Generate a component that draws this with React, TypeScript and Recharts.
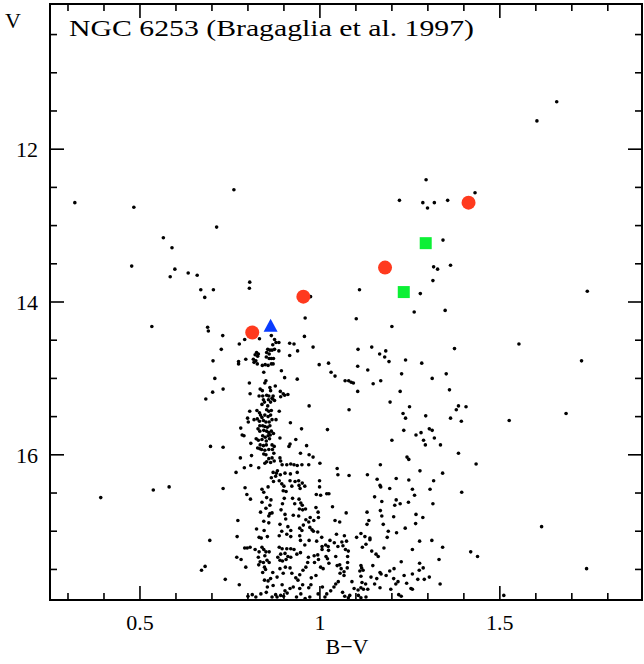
import { ScatterChart, Scatter, XAxis, YAxis, ReferenceArea } from 'recharts'

// field + cluster stars, [B-V, V]
const stars: [number, number][] = [
  [0.761, 12.53],
  [1.658, 11.38], [1.603, 11.63], [1.295, 12.40], [1.431, 12.57], [1.221, 12.67], [1.286, 12.70], [1.318, 12.70],
  [1.299, 12.77], [1.355, 12.67], [1.342, 13.19], [1.316, 13.54], [1.327, 13.57], [1.363, 13.52], [1.314, 13.72],
  [1.110, 13.84], [1.279, 13.89], [1.743, 13.86],
  [0.713, 13.02], [0.565, 13.16], [0.589, 13.29], [0.597, 13.57], [0.584, 13.67], [0.634, 13.62], [0.659, 13.65],
  [0.669, 13.84], [0.704, 13.84], [0.680, 13.94], [0.805, 13.74], [0.804, 13.82], [0.974, 13.93], [1.262, 14.13],
  [1.348, 14.11], [0.959, 14.21], [1.101, 14.22], [1.200, 14.32], [0.688, 14.33], [0.533, 14.32],
  [0.319, 12.70], [0.483, 12.76], [0.477, 13.53], [0.690, 14.38], [0.730, 14.44], [0.776, 14.55], [0.726, 14.62],
  [0.703, 14.77], [0.774, 14.78], [0.774, 14.81], [0.708, 15.00], [0.731, 15.14], [0.702, 15.18], [0.683, 15.27],
  [0.696, 15.89], [0.731, 15.90], [0.537, 16.46], [0.581, 16.42], [0.731, 16.44], [0.391, 16.56], [0.694, 17.12],
  [0.671, 17.51], [0.681, 17.46], [0.737, 17.63],
  [1.553, 14.55], [1.727, 14.77], [1.684, 15.46], [1.526, 15.55], [1.616, 16.94], [1.741, 17.49], [1.511, 17.84],
  [1.144, 14.59], [1.166, 14.68], [1.183, 14.64], [1.180, 14.72], [1.192, 14.78], [1.238, 14.76], [1.283, 14.80],
  [1.374, 14.61], [1.133, 14.89], [1.227, 14.94], [1.351, 14.94], [1.169, 15.03], [1.148, 15.07], [1.312, 15.00],
  [1.105, 15.17], [1.223, 15.17], [1.360, 15.15], [1.195, 15.31], [1.249, 15.37], [1.231, 15.46], [1.238, 15.52],
  [1.294, 15.49], [1.385, 15.36], [1.379, 15.41], [1.406, 15.37], [1.363, 15.52], [1.393, 15.56], [1.233, 15.68],
  [1.267, 15.74], [1.281, 15.71], [1.304, 15.66], [1.312, 15.68], [1.318, 15.78], [1.200, 15.81], [1.288, 15.81],
  [1.293, 15.87], [1.335, 15.87], [1.385, 15.98], [1.242, 16.03], [1.247, 16.06],
  [1.168, 16.13], [1.434, 16.12], [1.278, 16.21], [1.132, 16.26], [1.341, 16.24], [1.159, 16.32], [1.212, 16.31],
  [1.247, 16.33], [1.316, 16.34], [1.167, 16.40], [1.169, 16.42], [1.194, 16.44], [1.257, 16.45], [1.306, 16.45],
  [1.394, 16.49], [1.263, 16.53], [1.152, 16.55], [1.172, 16.61], [1.212, 16.59], [1.208, 16.66], [1.223, 16.64],
  [1.246, 16.62], [1.314, 16.64], [1.131, 16.75], [1.168, 16.73], [1.172, 16.80], [1.205, 16.81], [1.267, 16.78],
  [1.286, 16.82], [1.136, 16.86], [1.131, 16.91], [1.176, 16.91], [1.266, 16.90], [1.237, 16.96], [1.190, 17.00],
  [1.213, 17.02], [1.114, 17.03], [1.125, 17.07], [1.139, 17.09], [1.139, 17.11], [1.187, 17.08], [1.277, 17.13],
  [1.311, 17.12], [1.128, 17.17], [1.118, 17.21], [1.341, 17.21], [1.178, 17.22], [1.257, 17.24], [1.144, 17.26],
  [1.156, 17.30], [1.162, 17.33], [1.419, 17.27], [1.438, 17.33], [1.331, 17.37], [1.226, 17.40], [1.277, 17.42],
  [1.147, 17.45], [1.114, 17.45], [1.116, 17.48], [1.120, 17.51], [1.111, 17.52], [1.287, 17.48], [1.276, 17.51],
  [1.206, 17.49], [1.194, 17.52], [1.167, 17.54], [1.170, 17.56], [1.184, 17.58], [1.257, 17.56], [1.142, 17.60],
  [1.158, 17.62], [1.205, 17.62], [1.234, 17.58], [1.272, 17.63], [1.290, 17.63], [1.304, 17.60], [1.114, 17.59],
  [1.117, 17.67], [1.127, 17.69], [1.152, 17.69], [1.167, 17.74], [1.114, 17.74], [1.121, 17.76], [1.133, 17.76],
  [1.217, 17.66], [1.211, 17.69], [1.241, 17.68], [1.334, 17.69], [1.197, 17.76], [1.253, 17.75], [1.257, 17.76],
  [1.219, 17.83], [1.226, 17.85], [1.114, 17.87], [1.128, 17.86],
  // turnoff / upper main sequence
  [0.791, 14.49], [0.832, 14.48], [0.865, 14.44], [0.869, 14.56], [0.874, 14.49], [0.878, 14.53], [0.886, 14.53],
  [0.916, 14.54], [0.928, 14.55], [0.957, 14.45], [0.981, 14.59], [1.106, 14.62], [0.855, 14.62], [0.861, 14.63],
  [0.867, 14.63], [0.874, 14.62], [0.824, 14.66], [0.829, 14.68], [0.852, 14.66], [0.859, 14.68], [0.886, 14.64],
  [0.938, 14.64], [0.820, 14.69], [0.827, 14.71], [0.851, 14.72], [0.859, 14.74], [0.865, 14.74], [0.871, 14.74],
  [0.916, 14.70], [0.794, 14.75], [0.815, 14.75], [0.822, 14.77], [0.817, 14.79], [0.826, 14.81], [0.840, 14.83],
  [0.848, 14.82], [0.856, 14.83], [0.865, 14.81], [0.870, 14.81], [0.998, 14.82], [1.024, 14.80], [1.105, 14.84],
  [0.893, 14.90], [0.844, 14.92], [1.031, 14.92], [1.042, 14.97], [0.902, 14.99], [0.937, 15.01], [1.070, 15.03],
  [1.080, 15.03], [1.087, 15.05], [1.093, 15.06], [0.850, 15.03], [0.847, 15.06], [0.804, 15.06], [0.876, 15.10],
  [0.834, 15.14], [0.840, 15.16], [0.861, 15.12], [0.863, 15.16], [0.890, 15.17], [0.898, 15.20], [0.911, 15.21],
  [0.806, 15.20], [0.831, 15.23], [0.841, 15.23], [0.852, 15.22], [0.858, 15.23], [0.870, 15.23], [0.867, 15.26],
  [0.843, 15.28], [0.846, 15.31], [0.857, 15.28], [0.863, 15.31], [0.869, 15.27], [0.874, 15.29], [0.891, 15.24],
  [0.902, 15.22], [0.839, 15.34], [0.855, 15.36], [0.970, 15.36], [1.081, 15.41], [0.805, 15.43], [0.825, 15.42],
  [0.832, 15.45], [0.852, 15.41], [0.858, 15.43], [0.865, 15.42], [0.887, 15.43], [0.835, 15.48], [0.839, 15.51],
  [0.847, 15.48], [0.856, 15.50], [0.863, 15.48], [0.799, 15.52], [0.801, 15.57], [0.817, 15.54], [0.826, 15.53],
  [0.832, 15.56], [0.843, 15.55], [0.850, 15.57], [0.859, 15.57], [0.867, 15.54], [0.878, 15.54], [0.918, 15.58],
  [0.833, 15.62], [0.841, 15.62], [0.847, 15.63], [0.854, 15.64], [0.861, 15.62], [0.780, 15.65], [0.828, 15.66],
  [0.833, 15.69], [0.844, 15.68], [0.852, 15.69], [0.858, 15.71], [0.865, 15.69], [0.949, 15.66], [1.021, 15.67],
  [0.784, 15.74], [0.789, 15.75], [0.841, 15.75], [0.848, 15.77], [0.856, 15.75], [0.862, 15.74], [0.871, 15.72],
  [0.889, 15.78], [0.823, 15.79], [0.829, 15.81], [0.839, 15.80], [0.851, 15.82], [0.860, 15.79], [0.933, 15.80],
  [0.808, 15.85], [0.834, 15.87], [0.843, 15.88], [0.851, 15.87], [0.867, 15.87], [0.873, 15.89], [0.917, 15.86],
  [0.914, 15.89], [0.963, 15.88], [0.827, 15.91], [0.833, 15.92], [0.838, 15.93], [0.847, 15.94], [0.858, 15.93],
  [0.868, 15.93], [0.810, 16.01], [0.844, 15.99], [0.850, 16.00], [0.872, 15.98], [0.889, 16.04], [0.946, 15.98],
  [0.970, 16.00], [0.981, 16.03], [0.779, 16.04], [0.858, 16.05], [0.867, 16.04],
  // lower main sequence
  [0.767, 16.23], [0.790, 16.17], [0.808, 16.14], [0.830, 16.17], [0.847, 16.11], [0.852, 16.09], [0.863, 16.10],
  [0.873, 16.08], [0.891, 16.08], [0.895, 16.13], [0.908, 16.13], [0.919, 16.12], [0.928, 16.13], [0.937, 16.14],
  [0.950, 16.13], [0.969, 16.13], [1.000, 16.11], [1.048, 16.18], [1.050, 16.26], [1.081, 16.27], [0.870, 16.23],
  [0.882, 16.21], [0.879, 16.24], [0.890, 16.26], [0.903, 16.24], [0.918, 16.25], [0.937, 16.23], [0.865, 16.30],
  [0.871, 16.35], [0.877, 16.28], [0.887, 16.34], [0.894, 16.38], [0.900, 16.41], [0.898, 16.47], [0.906, 16.48],
  [0.917, 16.34], [0.931, 16.35], [0.941, 16.34], [0.951, 16.37], [0.922, 16.41], [0.942, 16.40], [0.945, 16.44],
  [0.958, 16.41], [0.999, 16.34], [0.999, 16.42], [1.002, 16.53], [1.019, 16.51], [1.025, 16.51], [0.990, 16.52],
  [0.792, 16.43], [0.797, 16.52], [0.807, 16.58], [0.839, 16.45], [0.844, 16.49], [0.856, 16.42], [0.852, 16.56],
  [0.864, 16.59], [0.861, 16.66], [0.839, 16.62], [0.850, 16.70], [0.835, 16.75], [0.861, 16.77], [0.858, 16.80],
  [0.867, 16.76], [0.901, 16.57], [0.896, 16.64], [0.892, 16.72], [0.903, 16.78], [0.905, 16.84], [0.924, 16.57],
  [0.930, 16.64], [0.942, 16.58], [0.947, 16.63], [0.951, 16.66], [0.952, 16.72], [0.960, 16.71], [0.943, 16.71],
  [0.941, 16.80], [0.926, 16.79], [0.961, 16.85], [0.973, 16.82], [0.969, 16.88], [0.954, 16.92], [0.983, 16.86],
  [0.996, 16.82], [0.989, 16.69], [0.995, 16.75], [1.035, 16.68], [1.042, 16.86], [1.055, 16.88], [1.073, 16.76],
  [0.772, 16.86], [0.844, 16.87], [0.858, 16.89], [0.824, 16.97], [0.845, 16.99], [0.889, 16.91], [0.894, 17.00],
  [0.887, 17.06], [0.911, 16.94], [0.908, 17.04], [0.919, 16.99], [0.919, 17.07], [0.944, 16.96], [0.950, 16.99],
  [0.944, 17.06], [0.972, 16.95], [0.978, 16.98], [0.982, 17.00], [0.994, 17.01], [1.005, 17.08], [0.991, 17.13],
  [0.970, 17.12], [0.958, 17.18], [0.946, 17.12], [0.831, 17.08], [0.837, 17.09], [0.854, 17.07], [0.770, 17.07],
  [0.791, 17.22], [0.798, 17.22], [0.806, 17.21], [0.820, 17.24], [0.831, 17.27], [0.839, 17.21], [0.844, 17.24],
  [0.847, 17.32], [0.850, 17.27], [0.859, 17.27], [0.829, 17.34], [0.834, 17.40], [0.830, 17.44], [0.843, 17.41],
  [0.853, 17.38], [0.859, 17.41], [0.846, 17.47], [0.849, 17.50], [0.841, 17.54], [0.887, 17.21], [0.895, 17.23],
  [0.908, 17.23], [0.919, 17.23], [0.928, 17.24], [0.891, 17.30], [0.903, 17.29], [0.883, 17.34], [0.889, 17.38],
  [0.896, 17.39], [0.911, 17.33], [0.906, 17.37], [0.919, 17.34], [0.936, 17.30], [0.946, 17.28], [0.968, 17.34],
  [0.966, 17.41], [0.961, 17.47], [0.984, 17.32], [0.994, 17.31], [0.996, 17.37], [0.985, 17.41], [1.006, 17.20],
  [1.006, 17.24], [1.016, 17.18], [1.023, 17.20], [1.024, 17.25], [1.028, 17.12], [1.040, 17.15], [1.046, 17.04],
  [1.061, 17.14], [1.050, 17.20], [1.068, 17.06], [1.074, 17.13], [1.064, 17.19], [1.071, 17.24], [1.079, 17.26],
  [1.102, 17.08], [1.017, 17.33], [1.021, 17.36], [1.025, 17.42], [1.044, 17.33], [1.048, 17.45], [1.055, 17.44],
  [1.059, 17.49], [1.056, 17.55], [1.067, 17.53], [1.067, 17.58], [1.077, 17.33], [1.077, 17.41], [1.076, 17.48],
  [1.089, 17.66], [1.095, 17.75], [1.106, 17.77], [1.107, 17.84], [1.002, 17.47], [1.009, 17.49], [0.989, 17.58],
  [0.976, 17.61], [0.975, 17.70], [0.969, 17.74], [0.944, 17.57], [0.953, 17.51], [0.933, 17.61], [0.939, 17.64],
  [0.922, 17.55], [0.917, 17.48], [0.904, 17.47], [0.898, 17.55], [0.889, 17.49], [0.881, 17.60], [0.869, 17.54],
  [0.863, 17.62], [0.856, 17.65], [0.846, 17.64], [0.854, 17.73], [0.870, 17.71], [0.895, 17.70], [0.903, 17.78],
  [0.909, 17.81], [0.899, 17.85], [0.891, 17.84], [0.881, 17.86], [0.877, 17.83], [0.867, 17.86], [0.851, 17.80],
  [0.836, 17.82], [0.822, 17.86], [0.800, 17.85], [0.812, 17.83], [0.776, 17.70], [0.794, 17.47], [0.769, 17.34],
  [0.781, 17.37], [0.917, 17.75], [0.926, 17.73], [0.952, 17.70], [0.944, 17.75], [0.947, 17.82], [0.935, 17.86],
  [0.959, 17.88], [0.972, 17.86], [0.995, 17.82], [1.007, 17.73], [1.014, 17.86], [1.019, 17.82], [1.030, 17.78],
  [1.039, 17.73], [1.044, 17.69], [1.051, 17.66], [1.063, 17.80], [1.069, 17.85], [1.079, 17.87], [1.083, 17.84],
]

const redClump: [number, number][] = [[0.812, 14.40], [0.954, 13.93], [1.181, 13.55], [1.413, 12.70]]
const greenStars: [number, number][] = [[1.294, 13.23], [1.233, 13.87]]
const blueStars: [number, number][] = [[0.863, 14.31]]

const xTicks = [0.3, 0.4, 0.5, 0.6, 0.7, 0.8, 0.9, 1, 1.1, 1.2, 1.3, 1.4, 1.5, 1.6, 1.7, 1.8]
const xMajor = [0.5, 1, 1.5]
const yTicks = [10.5, 11, 11.5, 12, 12.5, 13, 13.5, 14, 14.5, 15, 15.5, 16, 16.5, 17, 17.5]
const yMajor = [12, 14, 16]

const X_DOMAIN: [number, number] = [0.25, 1.895]
const Y_DOMAIN: [number, number] = [10.1, 17.9]

const TOP = 4
const BOTTOM = 600
const LEFT = 50
const RIGHT = 642
const FONT = '"Liberation Serif", "DejaVu Serif", serif'

const toPoints = (rows: [number, number][]) => rows.map(([bv, v]) => ({ bv, v }))

const isMajor = (list: number[], v: number) => list.some(m => Math.abs(m - v) < 1e-6)

function XTick({ x, payload }: any) {
  const major = isMajor(xMajor, payload.value)
  const len = major ? 14 : 7
  return (
    <g>
      <line x1={x} x2={x} y1={BOTTOM} y2={BOTTOM - len} stroke="#000" strokeWidth={1.6} />
      <line x1={x} x2={x} y1={TOP} y2={TOP + len} stroke="#000" strokeWidth={1.6} />
      {major && (
        <text x={x} y={630} textAnchor="middle" fontFamily={FONT} fontSize={22} fill="#000">
          {String(payload.value)}
        </text>
      )}
    </g>
  )
}

function YTick({ y, payload }: any) {
  const major = isMajor(yMajor, payload.value)
  const len = major ? 14 : 7
  return (
    <g>
      <line x1={LEFT} x2={LEFT + len} y1={y} y2={y} stroke="#000" strokeWidth={1.6} />
      <line x1={RIGHT} x2={RIGHT - len} y1={y} y2={y} stroke="#000" strokeWidth={1.6} />
      {major && (
        <text x={38} y={y + 8} textAnchor="end" fontFamily={FONT} fontSize={22} fill="#000">
          {String(payload.value)}
        </text>
      )}
    </g>
  )
}

const dot = (p: any) => <circle cx={p.cx} cy={p.cy} r={1.8} fill="#000" />
const redDot = (p: any) => <circle cx={p.cx} cy={p.cy} r={7} fill="#ff3a1e" />
const greenSquare = (p: any) => <rect x={p.cx - 6} y={p.cy - 6} width={12} height={12} fill="#0cf035" />
const blueTriangle = (p: any) => (
  <polygon points={`${p.cx},${p.cy - 7} ${p.cx - 7},${p.cy + 6} ${p.cx + 7},${p.cy + 6}`} fill="#0a3cff" />
)

export default function App() {
  return (
    <div style={{ position: 'absolute', left: 0, top: 0, background: '#fff' }}>
      <ScatterChart width={644} height={664} margin={{ top: TOP, right: 644 - RIGHT, bottom: 0, left: 0 }}>
        <XAxis
          type="number"
          dataKey="bv"
          domain={X_DOMAIN}
          allowDataOverflow
          ticks={xTicks}
          interval={0}
          height={64}
          axisLine={false}
          tickLine={false}
          tick={<XTick />}
          label={() => (
            <text x={347} y={654} textAnchor="middle" fontFamily={FONT} fontSize={22} fill="#000">
              B−V
            </text>
          )}
        />
        <YAxis
          type="number"
          dataKey="v"
          domain={Y_DOMAIN}
          reversed
          allowDataOverflow
          ticks={yTicks}
          interval={0}
          width={LEFT}
          axisLine={false}
          tickLine={false}
          tick={<YTick />}
          label={() => (
            <text x={5} y={28} fontFamily={FONT} fontSize={22} fill="#000">
              V
            </text>
          )}
        />
        <Scatter data={toPoints(stars)} shape={dot} isAnimationActive={false} />
        <Scatter data={toPoints(redClump)} shape={redDot} isAnimationActive={false} />
        <Scatter data={toPoints(greenStars)} shape={greenSquare} isAnimationActive={false} />
        <Scatter data={toPoints(blueStars)} shape={blueTriangle} isAnimationActive={false} />
        <ReferenceArea
          x1={X_DOMAIN[0]}
          x2={X_DOMAIN[1]}
          y1={Y_DOMAIN[0]}
          y2={Y_DOMAIN[1]}
          ifOverflow="visible"
          fill="none"
          stroke="#000"
          strokeWidth={2}
          label={() => (
            <text x={69} y={36} fontFamily={FONT} fontSize={23} fill="#000" textLength={405} lengthAdjust="spacingAndGlyphs">
              NGC 6253 (Bragaglia et al. 1997)
            </text>
          )}
        />
      </ScatterChart>
    </div>
  )
}
